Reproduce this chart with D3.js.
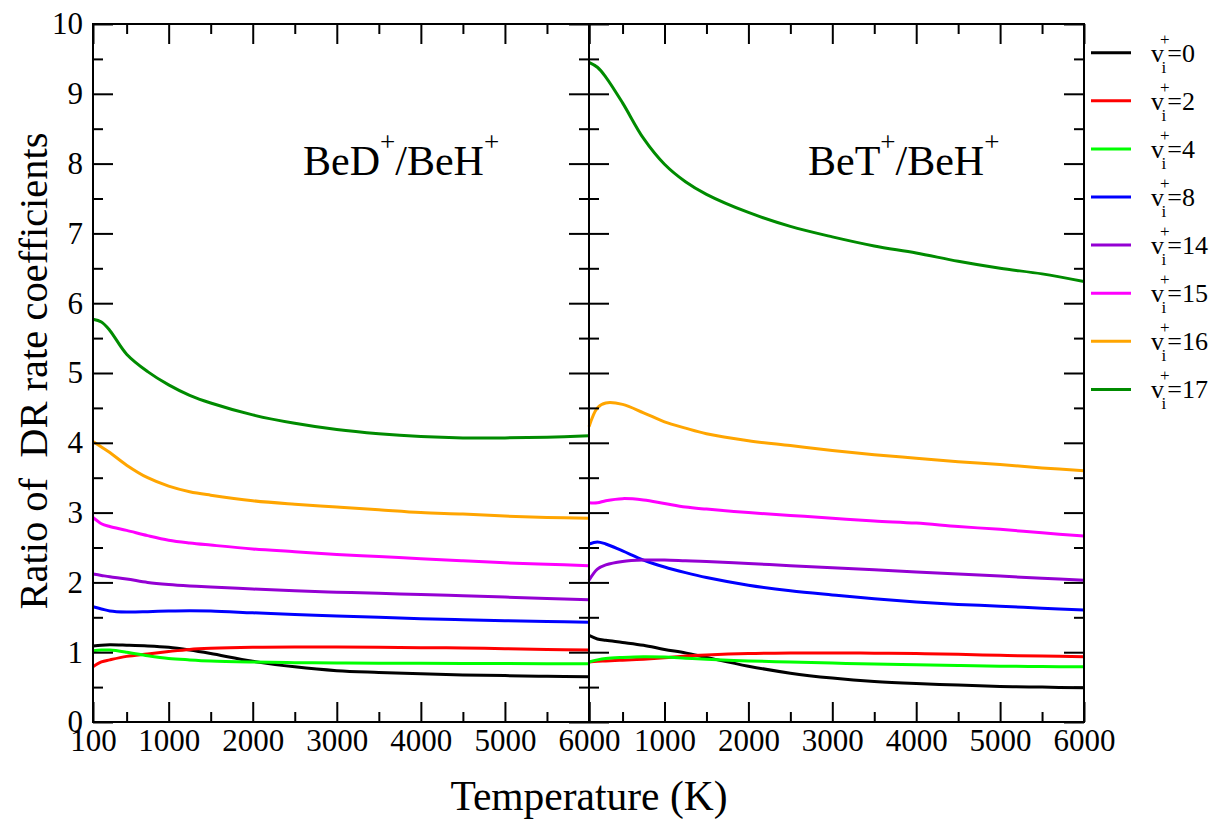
<!DOCTYPE html>
<html>
<head>
<meta charset="utf-8">
<script src="https://cdn.jsdelivr.net/npm/d3@7"></script>
<style>
  body { margin: 0; background: #fff; }
  svg { display: block; font-family: "Liberation Serif", "Times New Roman", serif; }
  .axis path { display: none; }
  .axis line { stroke: #000; stroke-width: 2; }
  .axis text { font-family: "Liberation Serif", "Times New Roman", serif; fill: #000; }
</style>
</head>
<body>
<div id="chart"></div>
<script>
// temperature grid (K), shared by every curve
const temps = [100, 200, 300, 500, 750, 1000, 1250, 1500, 2000, 2500, 3000, 3500, 4000, 4500, 5000, 5500, 6000];

const levels = ["0", "2", "4", "8", "14", "15", "16", "17"];
const colors = ["#000000", "#ff0000", "#00ff00", "#0000ff", "#9400d3", "#ff00ff", "#ffa500", "#008b00"];

// BeD+/BeH+ ratios
const bedV0  = [1.09, 1.10, 1.105, 1.10, 1.09, 1.07, 1.03, 0.98, 0.87, 0.79, 0.735, 0.71, 0.69, 0.675, 0.665, 0.655, 0.65];
const bedV2  = [0.79, 0.86, 0.89, 0.94, 0.975, 1.01, 1.04, 1.055, 1.07, 1.075, 1.075, 1.07, 1.065, 1.06, 1.05, 1.04, 1.03];
const bedV4  = [1.02, 1.03, 1.03, 1.00, 0.95, 0.91, 0.89, 0.875, 0.86, 0.85, 0.845, 0.843, 0.84, 0.838, 0.837, 0.836, 0.835];
const bedV8  = [1.65, 1.62, 1.59, 1.575, 1.58, 1.59, 1.595, 1.59, 1.565, 1.54, 1.52, 1.50, 1.48, 1.465, 1.45, 1.44, 1.43];
const bedV14 = [2.12, 2.10, 2.08, 2.05, 2.00, 1.97, 1.95, 1.935, 1.905, 1.88, 1.86, 1.845, 1.825, 1.81, 1.79, 1.77, 1.75];
const bedV15 = [2.93, 2.84, 2.80, 2.745, 2.67, 2.605, 2.565, 2.535, 2.48, 2.44, 2.40, 2.37, 2.34, 2.31, 2.28, 2.26, 2.24];
const bedV16 = [4.02, 3.94, 3.86, 3.68, 3.50, 3.38, 3.30, 3.25, 3.17, 3.12, 3.08, 3.04, 3.00, 2.98, 2.95, 2.93, 2.92];
const bedV17 = [5.77, 5.73, 5.61, 5.27, 5.02, 4.83, 4.68, 4.57, 4.40, 4.28, 4.19, 4.13, 4.09, 4.07, 4.07, 4.08, 4.10];

// BeT+/BeH+ ratios
const betV0  = [1.24, 1.19, 1.17, 1.14, 1.10, 1.04, 0.99, 0.925, 0.80, 0.70, 0.63, 0.58, 0.55, 0.53, 0.51, 0.50, 0.49];
const betV2  = [0.86, 0.87, 0.875, 0.885, 0.90, 0.92, 0.945, 0.96, 0.98, 0.988, 0.99, 0.985, 0.98, 0.97, 0.955, 0.945, 0.936];
const betV4  = [0.86, 0.89, 0.91, 0.925, 0.935, 0.93, 0.915, 0.90, 0.875, 0.86, 0.845, 0.83, 0.82, 0.81, 0.80, 0.795, 0.79];
const betV8  = [2.55, 2.58, 2.55, 2.45, 2.32, 2.22, 2.14, 2.07, 1.96, 1.88, 1.82, 1.765, 1.72, 1.685, 1.66, 1.63, 1.605];
const betV14 = [2.03, 2.19, 2.25, 2.30, 2.32, 2.32, 2.31, 2.30, 2.27, 2.24, 2.21, 2.18, 2.15, 2.12, 2.09, 2.06, 2.03];
const betV15 = [3.14, 3.14, 3.17, 3.20, 3.18, 3.13, 3.08, 3.05, 3.00, 2.96, 2.92, 2.88, 2.85, 2.80, 2.76, 2.71, 2.665];
const betV16 = [4.23, 4.50, 4.57, 4.55, 4.43, 4.30, 4.21, 4.13, 4.03, 3.96, 3.89, 3.83, 3.78, 3.73, 3.69, 3.64, 3.60];
const betV17 = [9.45, 9.38, 9.24, 8.87, 8.36, 7.99, 7.74, 7.56, 7.30, 7.10, 6.95, 6.82, 6.72, 6.60, 6.50, 6.42, 6.31];

const xMajor = [100, 1000, 2000, 3000, 4000, 5000, 6000];
const xMinor = [500, 1500, 2500, 3500, 4500, 5500];
const yMajor = [0, 1, 2, 3, 4, 5, 6, 7, 8, 9, 10];
const yMinor = [0.5, 1.5, 2.5, 3.5, 4.5, 5.5, 6.5, 7.5, 8.5, 9.5];

const width = 1219, height = 820;
const plotTop = 24, plotBottom = 722;

const svg = d3.select("#chart").append("svg")
    .attr("width", width)
    .attr("height", height);

const y = d3.scaleLinear().domain([0, 10]).range([plotBottom, plotTop]);

const panels = [
    { x: d3.scaleLinear().domain([100, 6000]).range([93, 589]),
      series: [bedV0, bedV2, bedV4, bedV8, bedV14, bedV15, bedV16, bedV17],
      title: ["BeD", "/BeH"], titleX: 303, labels: xMajor },
    { x: d3.scaleLinear().domain([100, 6000]).range([589, 1084]),
      series: [betV0, betV2, betV4, betV8, betV14, betV15, betV16, betV17],
      title: ["BeT", "/BeH"], titleX: 808, labels: xMajor.slice(1) }
];

panels.forEach((p, pi) => {
    const [x0, x1] = p.x.range();

    // curves
    const line = d3.line()
        .x((d, i) => p.x(temps[i]))
        .y(d => y(d))
        .curve(d3.curveCatmullRom.alpha(0.5));

    p.series.forEach((vals, si) => {
        svg.append("path")
            .datum(vals)
            .attr("fill", "none")
            .attr("stroke", colors[si])
            .attr("stroke-width", 3)
            .attr("d", line);
    });

    // bottom axis: major ticks with labels, minor ticks without
    svg.append("g").attr("class", "axis")
        .attr("transform", `translate(0,${plotBottom})`)
        .call(d3.axisBottom(p.x).tickValues(xMajor).tickSize(-20).tickPadding(7)
            .tickFormat(d => p.labels.includes(d) ? d : ""))
        .selectAll("text").attr("font-size", 31);
    svg.append("g").attr("class", "axis")
        .attr("transform", `translate(0,${plotBottom})`)
        .call(d3.axisBottom(p.x).tickValues(xMinor).tickSize(-10).tickFormat(""));

    // top axis (mirror)
    svg.append("g").attr("class", "axis")
        .attr("transform", `translate(0,${plotTop})`)
        .call(d3.axisTop(p.x).tickValues(xMajor).tickSize(-20).tickFormat(""));
    svg.append("g").attr("class", "axis")
        .attr("transform", `translate(0,${plotTop})`)
        .call(d3.axisTop(p.x).tickValues(xMinor).tickSize(-10).tickFormat(""));

    // left and right y ticks, pointing inward
    const leftAx = d3.axisLeft(y).tickValues(yMajor).tickSize(-20).tickPadding(10)
        .tickFormat(pi === 0 ? d3.format("d") : "");
    svg.append("g").attr("class", "axis")
        .attr("transform", `translate(${x0},0)`)
        .call(leftAx)
        .selectAll("text").attr("font-size", 31);
    svg.append("g").attr("class", "axis")
        .attr("transform", `translate(${x0},0)`)
        .call(d3.axisLeft(y).tickValues(yMinor).tickSize(-10).tickFormat(""));
    svg.append("g").attr("class", "axis")
        .attr("transform", `translate(${x1},0)`)
        .call(d3.axisRight(y).tickValues(yMajor).tickSize(-20).tickFormat(""));
    svg.append("g").attr("class", "axis")
        .attr("transform", `translate(${x1},0)`)
        .call(d3.axisRight(y).tickValues(yMinor).tickSize(-10).tickFormat(""));

    // frame
    svg.append("rect")
        .attr("x", x0).attr("y", plotTop)
        .attr("width", x1 - x0).attr("height", plotBottom - plotTop)
        .attr("fill", "none").attr("stroke", "#000").attr("stroke-width", 2);

    // panel label
    const t = svg.append("text")
        .attr("x", p.titleX).attr("y", 175)
        .attr("font-size", 42);
    t.append("tspan").text(p.title[0]);
    t.append("tspan").attr("font-size", 27).attr("dy", -24).text("+");
    t.append("tspan").attr("dy", 24).text(p.title[1]);
    t.append("tspan").attr("font-size", 27).attr("dy", -24).text("+");
});

// axis titles
svg.append("text")
    .attr("x", 589).attr("y", 810)
    .attr("text-anchor", "middle")
    .attr("font-size", 41.5)
    .text("Temperature (K)");

svg.append("text")
    .attr("transform", "translate(47,371) rotate(-90)")
    .attr("text-anchor", "middle")
    .attr("font-size", 40.5)
    .style("white-space", "pre")
    .text("Ratio of  DR rate coefficients");

// legend: v with stacked superscript "+" and subscript "i"
const legend = svg.append("g");
levels.forEach((lv, i) => {
    const ly = 52.7 + i * 48.1;
    legend.append("line")
        .attr("x1", 1091).attr("x2", 1131)
        .attr("y1", ly).attr("y2", ly)
        .attr("stroke", colors[i]).attr("stroke-width", 3);
    const lt = legend.append("text")
        .attr("x", 1151).attr("y", ly + 9)
        .attr("font-size", 26);
    lt.append("tspan").text("v");
    lt.append("tspan").attr("font-size", 17).attr("dx", -4).attr("dy", -17).text("+");
    lt.append("tspan").attr("font-size", 17).attr("dx", -8).attr("dy", 28).text("i");
    lt.append("tspan").attr("dx", 1).attr("dy", -11).text("=" + lv);
});
</script>
</body>
</html>
